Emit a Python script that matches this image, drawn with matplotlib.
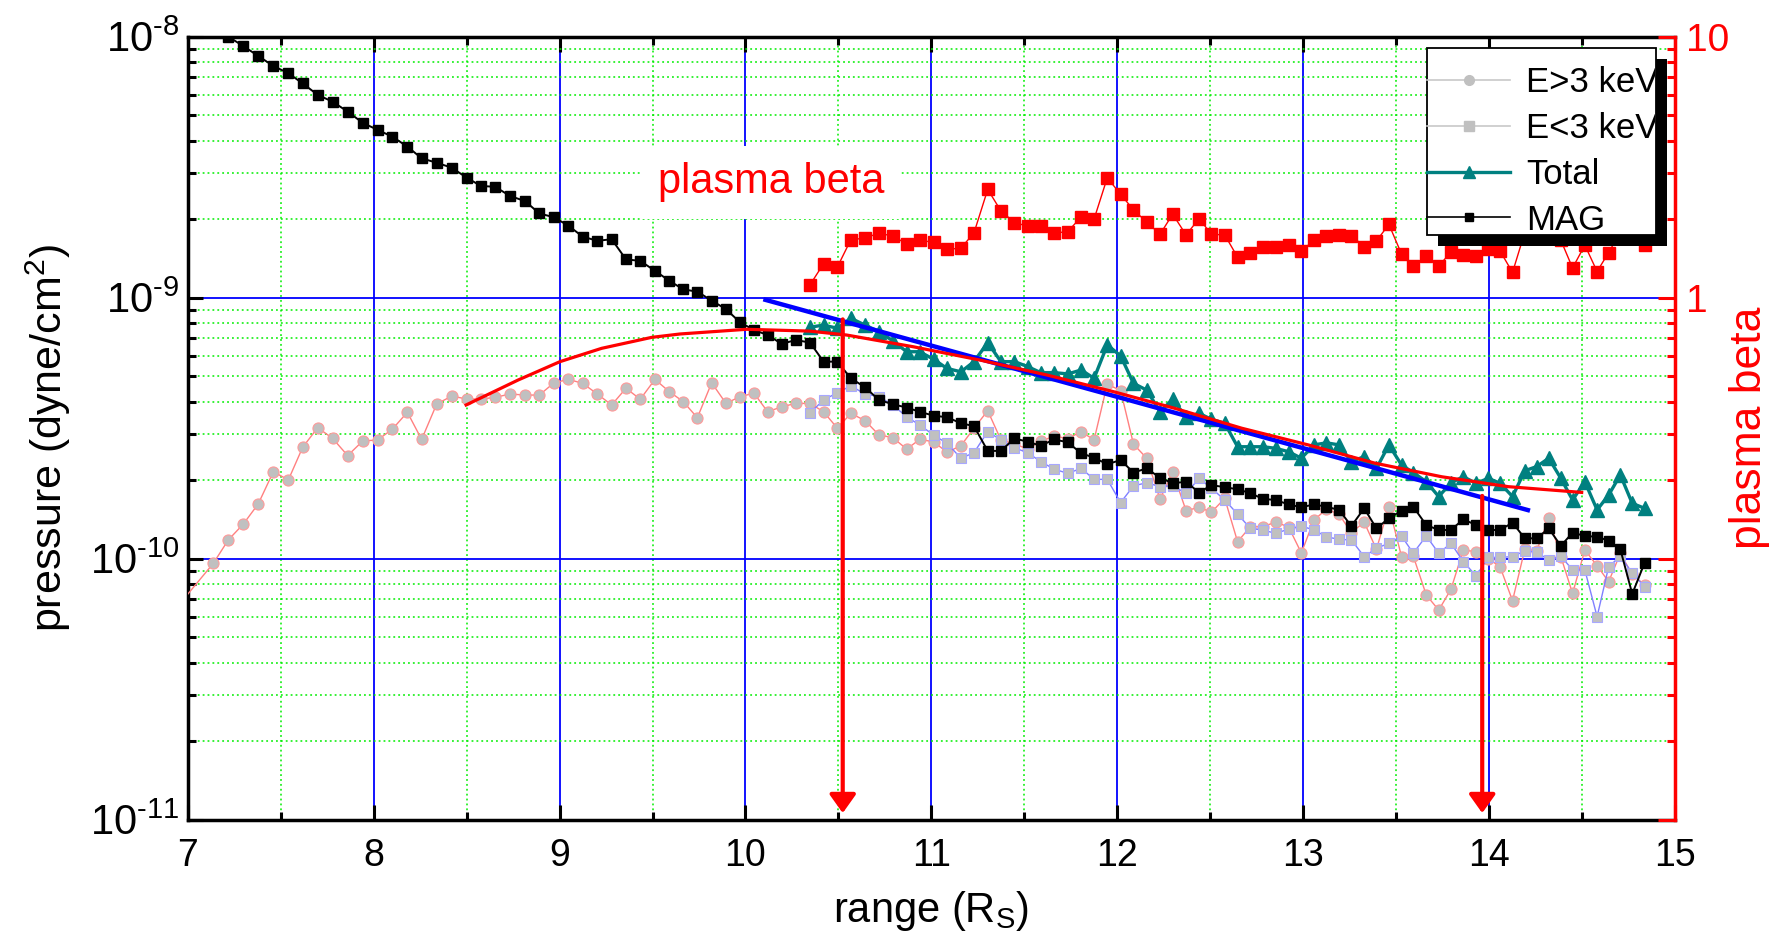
import matplotlib
matplotlib.use("Agg")
import matplotlib.pyplot as plt
import numpy as np
from matplotlib.lines import Line2D
from matplotlib.patches import Rectangle
from matplotlib.ticker import (LogLocator, FixedLocator, FixedFormatter,
                               FuncFormatter, NullFormatter, MultipleLocator)
from matplotlib.transforms import IdentityTransform, Bbox

plt.rcParams['font.family'] = ['Liberation Sans', 'DejaVu Sans']
plt.rcParams['mathtext.default'] = 'regular'
plt.rcParams['axes.unicode_minus'] = False

# ranges (R_S) of the samples
r_early = [6.96, 7.137, 7.218, 7.299, 7.379, 7.46, 7.541, 7.618, 7.699, 7.779,
           7.86, 7.941, 8.021, 8.10, 8.181, 8.258, 8.339, 8.42, 8.50, 8.577,
           8.653, 8.733, 8.814, 8.891, 8.97, 9.047, 9.124, 9.203, 9.28, 9.357,
           9.434, 9.513, 9.59, 9.665, 9.741, 9.818, 9.895, 9.97, 10.046, 10.119,
           10.195, 10.27]
r_late = [10.347, 10.42, 10.494, 10.567, 10.643, 10.718, 10.792, 10.867, 10.937, 11.012,
          11.084, 11.159, 11.229, 11.303, 11.374, 11.447, 11.518, 11.588, 11.661, 11.733,
          11.806, 11.875, 11.946, 12.018, 12.087, 12.158, 12.23, 12.298, 12.37, 12.44,
          12.506, 12.578, 12.647, 12.716, 12.784, 12.851, 12.921, 12.99, 13.058, 13.125,
          13.193, 13.259, 13.328, 13.394, 13.461, 13.529, 13.592, 13.662, 13.729, 13.795,
          13.861, 13.93, 13.996, 14.059, 14.126, 14.192, 14.256, 14.321, 14.386, 14.449,
          14.515, 14.581, 14.643, 14.706, 14.77, 14.837]

# pressures as log10(dyne/cm^2)
e_high_log = [-10.17, -10.018, -9.928, -9.867, -9.790, -9.667, -9.698, -9.573, -9.498, -9.539,
              -9.605, -9.549, -9.545, -9.504, -9.439, -9.543, -9.407, -9.377, -9.388, -9.388,
              -9.382, -9.369, -9.373, -9.373, -9.326, -9.313, -9.328, -9.369, -9.411, -9.347,
              -9.389, -9.313, -9.360, -9.398, -9.460, -9.326, -9.405, -9.379, -9.366, -9.437,
              -9.418, -9.405,
              -9.405, -9.437, -9.500, -9.443, -9.471, -9.526, -9.536, -9.580, -9.543, -9.552,
              -9.592, -9.567, -9.500, -9.433, -9.545, -9.560, -9.580, -9.550, -9.530, -9.540,
              -9.513, -9.545, -9.331, -9.356, -9.561, -9.615, -9.772, -9.667, -9.816, -9.803,
              -9.822, -9.769, -9.935, -9.877, -9.877, -9.860, -9.878, -9.978, -9.852, -9.810,
              -9.830, -9.900, -9.860, -9.964, -9.801, -9.992, -9.990, -10.139, -10.197, -10.117,
              -9.967, -9.973, -10.000, -10.031, -10.161, -9.964, -9.969, -9.845, -9.992, -10.133,
              -9.967, -10.027, -10.088, -9.980, -10.060, -10.101]

mag_log = [np.nan, -7.96, -8.00, -8.036, -8.074, -8.112, -8.140, -8.179, -8.223, -8.249,
           -8.287, -8.330, -8.357, -8.383, -8.421, -8.466, -8.483, -8.502, -8.540, -8.572,
           -8.575, -8.610, -8.630, -8.677, -8.692, -8.724, -8.766, -8.782, -8.776, -8.853,
           -8.859, -8.897, -8.935, -8.968, -8.977, -9.011, -9.044, -9.094, -9.124, -9.143,
           -9.177, -9.162,
           -9.172, -9.245, -9.245, -9.309, -9.343, -9.392, -9.408, -9.421, -9.437, -9.452,
           -9.458, -9.481, -9.492, -9.587, -9.587, -9.539, -9.552, -9.567, -9.543, -9.554,
           -9.596, -9.613, -9.638, -9.622, -9.670, -9.654, -9.690, -9.711, -9.705, -9.747,
           -9.718, -9.726, -9.734, -9.749, -9.771, -9.775, -9.792, -9.803, -9.792, -9.801,
           -9.813, -9.875, -9.807, -9.884, -9.845, -9.816, -9.801, -9.871, -9.890, -9.890,
           -9.849, -9.871, -9.890, -9.890, -9.862, -9.922, -9.922, -9.884, -9.951, -9.900,
           -9.913, -9.916, -9.931, -9.964, -10.135, -10.015]

e_low_log = [-9.441, -9.392, -9.364, -9.338, -9.369, -9.379, -9.411, -9.456, -9.488, -9.526,
             -9.558, -9.615, -9.594, -9.513, -9.545, -9.575, -9.594, -9.628, -9.657, -9.673,
             -9.654, -9.696, -9.696, -9.785, -9.721, -9.709, -9.724, -9.720, -9.750, -9.692,
             -9.730, -9.775, -9.829, -9.884, -9.890, -9.903, -9.887, -9.875, -9.890, -9.916,
             -9.926, -9.928, -9.992, -9.960, -9.941, -9.913, -9.979, -9.913, -9.979, -9.941,
             -10.011, -10.066, -9.995, -9.995, -9.992, -9.970, -9.975, -10.005, -9.990, -10.043,
             -10.043, -10.222, -10.031, -9.990, -10.056, -10.107]

total_log = [-9.113, -9.105, -9.117, -9.079, -9.105, -9.130, -9.165, -9.207, -9.207, -9.236,
             -9.271, -9.284, -9.245, -9.172, -9.245, -9.245, -9.264, -9.287, -9.287, -9.292,
             -9.277, -9.309, -9.181, -9.223, -9.328, -9.354, -9.437, -9.389, -9.458, -9.443,
             -9.466, -9.481, -9.571, -9.571, -9.571, -9.577, -9.590, -9.615, -9.564, -9.556,
             -9.564, -9.628, -9.609, -9.654, -9.564, -9.641, -9.670, -9.705, -9.762, -9.709,
             -9.686, -9.711, -9.692, -9.711, -9.762, -9.663, -9.647, -9.615, -9.692, -9.775,
             -9.705, -9.813, -9.756, -9.679, -9.788, -9.807]

beta = [1.12, 1.35, 1.31, 1.67, 1.69, 1.77, 1.72, 1.61, 1.66, 1.63,
        1.53, 1.55, 1.77, 2.60, 2.15, 1.94, 1.88, 1.88, 1.77, 1.79,
        2.04, 2.00, 2.88, 2.49, 2.17, 1.95, 1.75, 2.09, 1.74, 2.01,
        1.75, 1.74, 1.43, 1.49, 1.56, 1.57, 1.59, 1.51, 1.66, 1.72,
        1.74, 1.73, 1.57, 1.65, 1.91, 1.47, 1.32, 1.45, 1.32, 1.50,
        1.46, 1.44, 1.53, 1.51, 1.25, 1.78, 1.82, 1.74, 1.66, 1.30,
        1.59, 1.26, 1.49, 1.78, 1.74, 1.59]

# fitted trend of the total pressure (blue) and beta-weighted fit (red)
fit_x = [10.096, 14.22]
fit_log = [-9.006, -9.816]
curve_x = [8.497, 8.778, 9.002, 9.226, 9.495, 9.648, 10.006, 10.347, 10.544, 10.903,
           11.262, 11.62, 11.979, 12.31, 12.669, 13.027, 13.386, 13.745, 14.103, 14.498]
curve_log = [-9.411, -9.315, -9.245, -9.194, -9.152, -9.139, -9.121, -9.128, -9.143, -9.188,
             -9.239, -9.296, -9.360, -9.424, -9.500, -9.564, -9.634, -9.686, -9.724, -9.746]

# marked boundaries (red arrows)
arrow_x = [10.523, 13.963]
arrow_top = [8.26e-10, 1.74e-10]

r_all = np.array(r_early + r_late)
p = lambda v: np.power(10.0, np.array(v, dtype=float))

W, H = 1772, 938
fig = plt.figure(figsize=(W / 100, H / 100), dpi=100)
ax = fig.add_axes([0.10598, 0.12612, 0.83928, 0.83475])
ax.set_yscale('log')
ax.set_xlim(7, 15)
ax.set_ylim(1e-11, 1e-8)

ax.xaxis.set_major_locator(MultipleLocator(1))
ax.xaxis.set_minor_locator(MultipleLocator(0.5))
ax.yaxis.set_major_locator(LogLocator(base=10))
ax.yaxis.set_minor_locator(LogLocator(base=10, subs=np.arange(2, 10)))
ax.yaxis.set_minor_formatter(NullFormatter())
ax.yaxis.set_major_formatter(
    FuncFormatter(lambda v, pos: '$10^{\u2010%d}$' % abs(round(np.log10(v)))))

ax.set_axisbelow(True)
ax.grid(which='major', color='#0000ff', lw=1.3, ls='-')
ax.grid(which='minor', color='#00ee00', lw=1.1, ls=(0, (1.2, 2.0)))

ax.tick_params(which='both', direction='in', top=True, right=False, width=2.2, labelsize=27)
ax.tick_params(which='major', length=11)
ax.tick_params(which='minor', length=6)
ax.tick_params(axis='x', pad=13)
ax.tick_params(axis='y', pad=6, labelsize=30)
for s in ['left', 'bottom', 'top']:
    ax.spines[s].set_linewidth(2.5)
ax.spines['right'].set_visible(False)

ax.plot(r_all, p(e_high_log), '-o', color='#ff8080', lw=1.0, ms=8,
        mfc='#c0c0c0', mec='#ff9a9a', mew=0.8, zorder=3)
ax.plot(r_late, p(e_low_log), '-s', color='#8080ff', lw=1.0, ms=7.5,
        mfc='#c0c0c0', mec='#a8a8ff', mew=0.8, zorder=3.2)
ax.plot(r_all, p(mag_log), '-s', color='black', lw=1.4, ms=7.5, zorder=4)
ax.plot(r_late, p(total_log), '-^', color='#008080', lw=2.4, ms=10, zorder=4.5)
ax.plot(fit_x, p(fit_log), '-', color='#0000ff', lw=3.2, zorder=5, solid_capstyle='butt')
ax.plot(curve_x, p(curve_log), '-', color='#ff0000', lw=2.3, zorder=5.5)

for xa, top in zip(arrow_x, arrow_top):
    ax.annotate('', xy=(xa, 1.06e-11), xytext=(xa, top), zorder=6,
                arrowprops=dict(arrowstyle='-|>,head_length=0.45,head_width=0.32',
                                color='#ff0000', lw=3, mutation_scale=25,
                                shrinkA=0, shrinkB=0))

ax.text(10.137, 2.77e-9, 'plasma beta', color='#ff0000', fontsize=30,
        ha='center', va='center', zorder=2,
        bbox=dict(boxstyle='square,pad=0.4', fc='white', ec='none'))

ax.set_xlabel('range (R$_S$)', fontsize=30)
ax.xaxis.set_label_coords(0.5, -0.089)
ax.set_ylabel('pressure (dyne/cm$^2$)', fontsize=31)
ax.yaxis.set_label_coords(-0.077, 0.4875)

ax2 = ax.twinx()
ax2.set_yscale('log')
ax2.set_ylim(0.01, 10)
ax2.yaxis.set_major_locator(FixedLocator([0.01, 0.1, 1, 10]))
ax2.yaxis.set_major_formatter(FixedFormatter(['', '', '1', '10']))
ax2.yaxis.set_minor_locator(LogLocator(base=10, subs=np.arange(2, 10)))
ax2.yaxis.set_minor_formatter(NullFormatter())
ax2.tick_params(axis='y', which='both', direction='in', colors='#ff0000',
                width=2.2, labelsize=28, pad=8)
ax2.tick_params(axis='y', which='major', length=12)
ax2.tick_params(axis='y', which='minor', length=6)
for s in ['left', 'bottom', 'top']:
    ax2.spines[s].set_visible(False)
ax2.spines['right'].set_color('#ff0000')
ax2.spines['right'].set_linewidth(2.5)
ax2.set_ylabel('plasma beta', color='#ff0000', fontsize=32)
ax2.yaxis.set_label_coords(1.0363, 0.5)

ax2.plot(r_late, beta, '-s', color='#ff0000', lw=1.0, ms=9, zorder=3)

handles = [
    Line2D([], [], color='#c8c8c8', lw=1.2, marker='o', ms=7, mfc='#c0c0c0', mec='#c0c0c0'),
    Line2D([], [], color='#c8c8c8', lw=1.2, marker='s', ms=6.5, mfc='#c0c0c0', mec='#c0c0c0'),
    Line2D([], [], color='#008080', lw=2.4, marker='^', ms=9),
    Line2D([], [], color='black', lw=1.2, marker='s', ms=6),
]
labels = ['E>3 keV', 'E<3 keV', 'Total', 'MAG']
leg = ax2.legend(handles, labels, loc='upper left',
                 bbox_to_anchor=(1427 / W, 1 - 66 / H),
                 bbox_transform=fig.transFigure, borderaxespad=0,
                 frameon=False, fontsize=25, handlelength=2.4, handletextpad=0.45,
                 borderpad=0, labelspacing=0.37)
leg.set_zorder(20)

# legend frame and solid black drop shadow (pixel box of the reference)
box_x0, box_x1, box_top, box_bot = 1427, 1656, 48, 235
for dx, dy, fc, ec, z in [(11, 11, 'black', 'none', 18), (0, 0, 'white', 'black', 19)]:
    ax2.add_patch(Rectangle((box_x0 + dx, H - box_bot - dy), box_x1 - box_x0, box_bot - box_top,
                            transform=IdentityTransform(), fc=fc, ec=ec, lw=1.3,
                            zorder=z, clip_on=False))
# labels are cut at the frame edge, as in the original
clip = Bbox.from_extents(box_x0, H - box_bot, box_x1 - 1, H - box_top)
for t in leg.get_texts():
    t.set_clip_on(True)
    t.set_clip_box(clip)

fig.savefig('out.png', dpi=100)
